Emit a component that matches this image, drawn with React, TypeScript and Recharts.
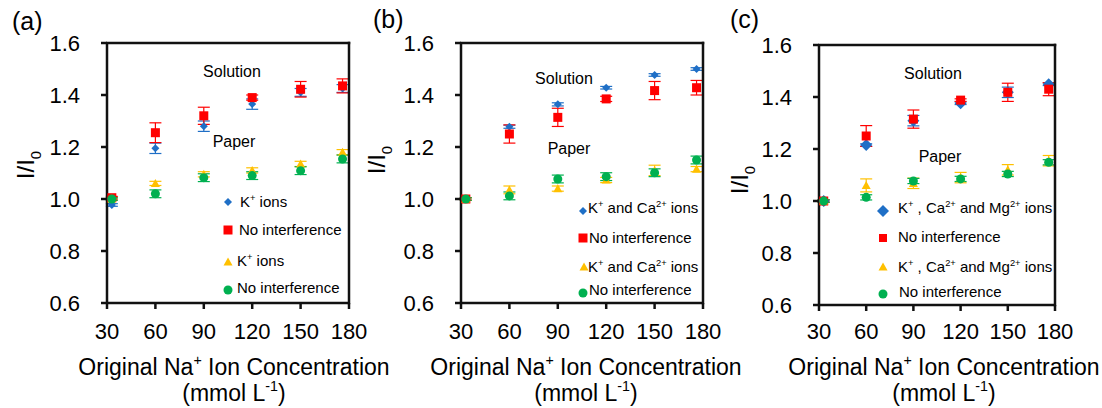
import React from "react";
import { ScatterChart, Scatter, XAxis, YAxis, ErrorBar } from "recharts";

const FONT = "'Liberation Sans', Arial, Helvetica, sans-serif";

// Original Na+ concentrations (mmol/L) and axis ticks
const concentrations = [33, 60, 90, 120, 150, 176];
const xTicks = [30, 60, 90, 120, 150, 180];
const yTicks = [0.6, 0.8, 1.0, 1.2, 1.4, 1.6];

// (a) K+ interference
const aSolutionK = [0.977, 1.195, 1.28, 1.365, 1.41, 1.425];
const aSolutionKErr = [0.005, 0.02, 0.02, 0.02, 0.015, 0.015];
const aSolutionRef = [1.005, 1.255, 1.32, 1.39, 1.422, 1.435];
const aSolutionRefErr = [0.005, 0.038, 0.033, 0.01, 0.03, 0.027];
const aPaperK = [1.0, 1.06, 1.095, 1.11, 1.135, 1.18];
const aPaperKErr = [0.005, 0.008, 0.01, 0.01, 0.01, 0.01];
const aPaperRef = [1.0, 1.02, 1.082, 1.09, 1.109, 1.154];
const aPaperRefErr = [0.005, 0.015, 0.015, 0.015, 0.015, 0.015];

// (b) K+ and Ca2+ interference
const bSolutionKCa = [1.0, 1.278, 1.364, 1.428, 1.477, 1.5];
const bSolutionKCaErr = [0.005, 0.006, 0.006, 0.005, 0.005, 0.005];
const bSolutionRef = [1.0, 1.25, 1.314, 1.385, 1.417, 1.428];
const bSolutionRefErr = [0.005, 0.035, 0.035, 0.01, 0.035, 0.028];
const bPaperKCa = [1.0, 1.035, 1.04, 1.073, 1.11, 1.115];
const bPaperKCaErr = [0.005, 0.015, 0.01, 0.01, 0.02, 0.01];
const bPaperRef = [1.0, 1.012, 1.077, 1.086, 1.101, 1.15];
const bPaperRefErr = [0.005, 0.015, 0.015, 0.015, 0.015, 0.015];

// (c) K+, Ca2+ and Mg2+ interference
const cSolutionMix = [1.0, 1.215, 1.309, 1.376, 1.418, 1.449];
const cSolutionMixErr = [0.005, 0.005, 0.02, 0.005, 0.02, 0.005];
const cSolutionRef = [1.0, 1.25, 1.315, 1.388, 1.418, 1.43];
const cSolutionRefErr = [0.005, 0.04, 0.035, 0.005, 0.035, 0.025];
const cPaperMix = [1.0, 1.06, 1.068, 1.09, 1.12, 1.155];
const cPaperMixErr = [0.005, 0.025, 0.02, 0.02, 0.02, 0.02];
const cPaperRef = [1.0, 1.014, 1.077, 1.085, 1.104, 1.149];
const cPaperRefErr = [0.005, 0.01, 0.01, 0.01, 0.01, 0.01];

const BLUE = "#1F6FC6";
const RED = "#FF0000";
const YELLOW = "#FFC000";
const GREEN = "#00B050";
const INK = "#111111";

const rows = (vals: number[], errs: number[]) =>
  concentrations.map((x, i) => ({ x, y: vals[i], err: errs[i] }));

// ---- marker shapes ----
const diamond = (r: number, color: string) => (p: any) =>
  p.cx == null ? <g /> : (
    <path
      d={`M${p.cx},${p.cy - r}L${p.cx + r},${p.cy}L${p.cx},${p.cy + r}L${p.cx - r},${p.cy}Z`}
      fill={color}
    />
  );
const square = (h: number, color: string) => (p: any) =>
  p.cx == null ? <g /> : <rect x={p.cx - h} y={p.cy - h} width={2 * h} height={2 * h} fill={color} />;
const triangle = (h: number, color: string) => (p: any) =>
  p.cx == null ? <g /> : (
    <path d={`M${p.cx},${p.cy - h}L${p.cx + h},${p.cy + h * 0.8}L${p.cx - h},${p.cy + h * 0.8}Z`} fill={color} />
  );
const circle = (r: number, color: string) => (p: any) =>
  p.cx == null ? <g /> : <circle cx={p.cx} cy={p.cy} r={r} fill={color} />;

// ---- rich text with super/subscripts: "Na^{+}", "I_{0}" ----
type Part = { t: string; sup?: boolean; sub?: boolean };
function parse(s: string): Part[] {
  const parts: Part[] = [];
  const re = /\^\{([^}]*)\}|_\{([^}]*)\}|([^^_]+)/g;
  let m: RegExpExecArray | null;
  while ((m = re.exec(s))) {
    if (m[1] !== undefined) parts.push({ t: m[1], sup: true });
    else if (m[2] !== undefined) parts.push({ t: m[2], sub: true });
    else parts.push({ t: m[3] });
  }
  return parts;
}

function Rich(props: {
  x: number;
  y: number;
  text: string;
  size: number;
  anchor?: "start" | "middle" | "end";
  transform?: string;
}) {
  const { x, y, text, size, anchor = "start", transform } = props;
  const parts = parse(text);
  let shift = 0;
  return (
    <text x={x} y={y} fontSize={size} textAnchor={anchor} fontFamily={FONT} fill="#000" transform={transform}>
      {parts.map((p, i) => {
        const target = p.sup ? -0.42 * size : p.sub ? 0.28 * size : 0;
        const dy = target - shift;
        shift = target;
        return (
          <tspan key={i} dy={dy} fontSize={p.sup || p.sub ? size * 0.62 : size}>
            {p.t}
          </tspan>
        );
      })}
    </text>
  );
}

type Series = { data: { x: number; y: number; err: number }[]; color: string; shape: (p: any) => React.ReactElement };

type Panel = {
  letter: string;
  left: number;
  width: number;
  top: number;
  right: number;
  yAxisWidth: number;
  xAxisHeight: number;
  xTickMargin: number;
  series: Series[];
};

const panels: Panel[] = [
  {
    letter: "a",
    left: 0,
    width: 380,
    top: 43,
    right: 31,
    yAxisWidth: 107,
    xAxisHeight: 105,
    xTickMargin: 14,
    series: [
      { data: rows(aSolutionK, aSolutionKErr), color: BLUE, shape: diamond(4, BLUE) },
      { data: rows(aSolutionRef, aSolutionRefErr), color: RED, shape: square(4.5, RED) },
      { data: rows(aPaperK, aPaperKErr), color: YELLOW, shape: triangle(4.5, YELLOW) },
      { data: rows(aPaperRef, aPaperRefErr), color: GREEN, shape: circle(4.5, GREEN) },
    ],
  },
  {
    letter: "b",
    left: 360,
    width: 380,
    top: 43,
    right: 37,
    yAxisWidth: 101,
    xAxisHeight: 105,
    xTickMargin: 14,
    series: [
      { data: rows(bSolutionKCa, bSolutionKCaErr), color: BLUE, shape: diamond(4, BLUE) },
      { data: rows(bSolutionRef, bSolutionRefErr), color: RED, shape: square(4.5, RED) },
      { data: rows(bPaperKCa, bPaperKCaErr), color: YELLOW, shape: triangle(4.5, YELLOW) },
      { data: rows(bPaperRef, bPaperRefErr), color: GREEN, shape: circle(4.5, GREEN) },
    ],
  },
  {
    letter: "c",
    left: 720,
    width: 382,
    top: 45,
    right: 47,
    yAxisWidth: 99,
    xAxisHeight: 103,
    xTickMargin: 12,
    series: [
      { data: rows(cSolutionMix, cSolutionMixErr), color: BLUE, shape: diamond(6, BLUE) },
      { data: rows(cSolutionRef, cSolutionRefErr), color: RED, shape: square(4.5, RED) },
      { data: rows(cPaperMix, cPaperMixErr), color: YELLOW, shape: triangle(4.5, YELLOW) },
      { data: rows(cPaperRef, cPaperRefErr), color: GREEN, shape: circle(4.5, GREEN) },
    ],
  },
];

const axisLine = { stroke: INK, strokeWidth: 2.5 };
const tickStyle = { fill: "#000", fontSize: 22, fontFamily: FONT };

function PanelChart({ p }: { p: Panel }) {
  return (
    <div style={{ position: "absolute", left: p.left, top: 0 }}>
      <ScatterChart
        width={p.width}
        height={408}
        margin={{ top: p.top, right: p.right, bottom: 0, left: 0 }}
      >
        <XAxis
          type="number"
          dataKey="x"
          domain={[30, 180]}
          ticks={xTicks}
          interval={0}
          allowDataOverflow
          height={p.xAxisHeight}
          axisLine={axisLine}
          tickLine={axisLine}
          tickSize={6}
          tickMargin={p.xTickMargin}
          tick={tickStyle}
        />
        <YAxis
          type="number"
          dataKey="y"
          domain={[0.6, 1.6]}
          ticks={yTicks}
          interval={0}
          allowDataOverflow
          width={p.yAxisWidth}
          axisLine={axisLine}
          tickLine={axisLine}
          tickSize={6}
          tickMargin={21}
          tick={tickStyle}
          tickFormatter={(v: number) => v.toFixed(1)}
        />
        {p.series.map((s, i) => (
          <Scatter key={i} data={s.data} fill={s.color} shape={s.shape} isAnimationActive={false}>
            <ErrorBar
              dataKey="err"
              direction="y"
              width={6}
              stroke={s.color}
              strokeWidth={1.2}
              isAnimationActive={false}
            />
          </Scatter>
        ))}
      </ScatterChart>
    </div>
  );
}

// ---- annotation layout (page coordinates) ----
type LegendRow = { mx: number; my: number; kind: string; tx: number; ty: number; text: string; r: number };

const legendMarker = (row: LegendRow, color: string) => {
  const { mx, my, r } = row;
  if (row.kind === "diamond")
    return <path d={`M${mx},${my - r}L${mx + r},${my}L${mx},${my + r}L${mx - r},${my}Z`} fill={color} />;
  if (row.kind === "square") return <rect x={mx - r} y={my - r} width={2 * r} height={2 * r} fill={color} />;
  if (row.kind === "triangle")
    return <path d={`M${mx},${my - r}L${mx + r},${my + r * 0.8}L${mx - r},${my + r * 0.8}Z`} fill={color} />;
  return <circle cx={mx} cy={my} r={r} fill={color} />;
};

const legendColors = [BLUE, RED, YELLOW, GREEN];

const legends: LegendRow[][] = [
  [
    { mx: 228, my: 202, kind: "diamond", tx: 240, ty: 207, text: "K^{+} ions", r: 4 },
    { mx: 228, my: 230, kind: "square", tx: 239, ty: 235, text: "No interference", r: 4.5 },
    { mx: 228, my: 262, kind: "triangle", tx: 237, ty: 266, text: "K^{+} ions", r: 4.5 },
    { mx: 228, my: 290, kind: "circle", tx: 237, ty: 293, text: "No interference", r: 4.5 },
  ],
  [
    { mx: 583, my: 211, kind: "diamond", tx: 588, ty: 213, text: "K^{+} and Ca^{2+} ions", r: 4 },
    { mx: 583, my: 238, kind: "square", tx: 589, ty: 243, text: "No interference", r: 4.5 },
    { mx: 584, my: 267, kind: "triangle", tx: 588, ty: 272, text: "K^{+} and Ca^{2+} ions", r: 4.5 },
    { mx: 583, my: 293, kind: "circle", tx: 589, ty: 295, text: "No interference", r: 4.5 },
  ],
  [
    { mx: 883, my: 211, kind: "diamond", tx: 898, ty: 213, text: "K^{+} , Ca^{2+} and Mg^{2+} ions", r: 6 },
    { mx: 883, my: 238, kind: "square", tx: 898, ty: 242, text: "No interference", r: 4 },
    { mx: 883, my: 267, kind: "triangle", tx: 898, ty: 272, text: "K^{+} , Ca^{2+} and Mg^{2+} ions", r: 4.5 },
    { mx: 883, my: 294, kind: "circle", tx: 899, ty: 297, text: "No interference", r: 4.5 },
  ],
];

// top and right edges of each plot frame (left/bottom come from the axes)
const frames = [
  { x1: 107, x2: 349, y1: 43, y2: 303 },
  { x1: 461, x2: 703, y1: 43, y2: 303 },
  { x1: 819, x2: 1055, y1: 45, y2: 305 },
];

const panelLabels = [
  { x: 12, y: 30, text: "(a)" },
  { x: 373, y: 28, text: "(b)" },
  { x: 730, y: 28, text: "(c)" },
];
const yTitles = [
  { x: 34, y: 165 },
  { x: 385, y: 160 },
  { x: 748, y: 180 },
];
const xTitles = [234, 586, 944];
const solutionLabels = [
  { x: 232, y: 77 },
  { x: 564, y: 84 },
  { x: 933, y: 79 },
];
const paperLabels = [
  { x: 234, y: 147 },
  { x: 569, y: 154 },
  { x: 940, y: 162 },
];

function Annotations() {
  return (
    <svg
      width={1102}
      height={408}
      style={{ position: "absolute", left: 0, top: 0, pointerEvents: "none" }}
    >
      {frames.map((f, i) => (
        <g key={"f" + i} fill={INK}>
          <rect x={f.x1 - 1} y={f.y1 - 1.25} width={f.x2 - f.x1 + 2.25} height={2.5} />
          <rect x={f.x2 - 1.25} y={f.y1 - 1.25} width={2.5} height={f.y2 - f.y1 + 2.5} />
        </g>
      ))}
      {panelLabels.map((l, i) => (
        <Rich key={"p" + i} x={l.x} y={l.y} text={l.text} size={25} />
      ))}
      {yTitles.map((t, i) => (
        <Rich key={"y" + i} x={0} y={0} text="I/I_{0}" size={24} anchor="middle" transform={`translate(${t.x},${t.y}) rotate(-90)`} />
      ))}
      {xTitles.map((cx, i) => (
        <g key={"x" + i}>
          <Rich x={cx} y={375} text="Original Na^{+} Ion Concentration" size={23} anchor="middle" />
          <Rich x={cx} y={401} text="(mmol L^{-1})" size={23} anchor="middle" />
        </g>
      ))}
      {solutionLabels.map((t, i) => (
        <Rich key={"s" + i} x={t.x} y={t.y} text="Solution" size={16} anchor="middle" />
      ))}
      {paperLabels.map((t, i) => (
        <Rich key={"q" + i} x={t.x} y={t.y} text="Paper" size={16} anchor="middle" />
      ))}
      {legends.map((rowsOfPanel, pi) =>
        rowsOfPanel.map((row, ri) => (
          <g key={`l${pi}-${ri}`}>
            {legendMarker(row, legendColors[ri])}
            <Rich x={row.tx} y={row.ty} text={row.text} size={15} />
          </g>
        ))
      )}
    </svg>
  );
}

export default function App() {
  return (
    <div
      style={{
        position: "absolute",
        left: 0,
        top: 0,
        width: 1102,
        height: 408,
        background: "#fff",
        overflow: "hidden",
      }}
    >
      {panels.map((p) => (
        <PanelChart key={p.letter} p={p} />
      ))}
      <Annotations />
    </div>
  );
}
